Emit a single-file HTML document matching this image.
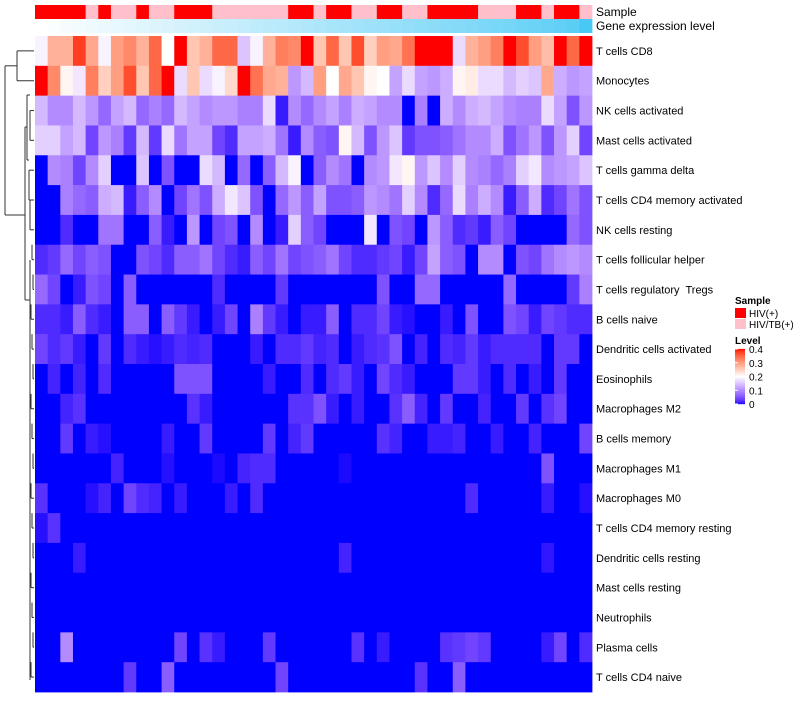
<!DOCTYPE html>
<html><head><meta charset="utf-8"><style>
body{margin:0;background:#fff;width:800px;height:700px;overflow:hidden;font-family:"Liberation Sans",sans-serif}
svg text{font-family:"Liberation Sans",sans-serif}
#labels text{white-space:pre}
</style></head><body>
<svg id="chart" width="800" height="700" xmlns="http://www.w3.org/2000/svg">
<g id="dendro" stroke="#333" fill="none" stroke-width="1"></g>
<g id="annot"></g>
<g id="cells"></g>
<g id="labels" font-size="11" fill="#000"></g>
<text x="596" y="16" font-size="12">Sample</text>
<text x="596" y="30" font-size="12">Gene expression level</text>
<g>
<text x="735" y="304" font-size="10" font-weight="bold">Sample</text>
<rect x="735" y="308" width="11" height="10" fill="#ff0000"/>
<text x="749" y="317" font-size="10">HIV(+)</text>
<rect x="735" y="319" width="11" height="10" fill="#ffc0cb"/>
<text x="749" y="328" font-size="10">HIV/TB(+)</text>
<text x="735" y="344" font-size="10" font-weight="bold">Level</text>
<g id="cbar"></g>
</g>
</svg>
<script>
const rowNames=["T cells CD8","Monocytes","NK cells activated","Mast cells activated","T cells gamma delta","T cells CD4 memory activated","NK cells resting","T cells follicular helper","T cells regulatory  Tregs","B cells naive","Dendritic cells activated","Eosinophils","Macrophages M2","B cells memory","Macrophages M1","Macrophages M0","T cells CD4 memory resting","Dendritic cells resting","Mast cells resting","Neutrophils","Plasma cells","T cells CD4 naive"];
const sampleGroup=[1,1,1,1,0,1,0,0,1,0,0,1,1,1,0,0,0,0,0,0,1,1,0,1,1,0,0,1,1,0,0,1,1,1,1,0,0,0,1,1,0,1,1,0];
const geneLevel=[0,0.02,0.05,0.07,0.09,0.11,0.13,0.15,0.17,0.19,0.21,0.23,0.25,0.27,0.29,0.31,0.33,0.35,0.37,0.39,0.41,0.43,0.45,0.47,0.49,0.51,0.53,0.55,0.57,0.59,0.61,0.63,0.65,0.67,0.69,0.71,0.73,0.75,0.78,0.8,0.83,0.86,0.9,1];
const r0=[0.19,0.28,0.28,0.38,0.29,0.19,0.3,0.32,0.28,0.35,0.2,0.42,0.26,0.28,0.35,0.35,0.15,0.19,0.28,0.33,0.32,0.42,0.26,0.35,0.26,0.37,0.25,0.3,0.29,0.34,0.45,0.45,0.45,0.17,0.28,0.3,0.33,0.42,0.37,0.3,0.27,0.42,0.35,0.42];
const r1=[0.42,0.32,0.21,0.18,0.33,0.25,0.3,0.37,0.26,0.35,0.42,0.17,0.26,0.17,0.19,0.24,0.42,0.34,0.29,0.28,0.11,0.14,0.3,0.2,0.29,0.26,0.21,0.2,0.12,0.17,0.12,0.11,0.13,0.21,0.22,0.17,0.17,0.14,0.16,0.15,0.29,0.13,0.11,0.12];
const r2=[0.14,0.1,0.1,0.14,0.11,0.07,0.12,0.14,0.07,0.09,0.07,0.14,0.12,0.1,0.11,0.11,0.09,0.09,0.17,0.01,0.1,0.07,0.1,0.12,0.09,0.13,0.12,0.1,0.1,0,0.09,0,0.13,0.1,0.13,0.14,0.12,0.1,0.09,0.09,0.17,0.12,0.05,0.11];
const r3=[0.16,0.16,0.12,0.14,0.04,0.11,0.09,0.03,0.14,0.03,0.17,0.08,0.12,0.12,0.04,0.02,0.12,0.12,0.13,0.08,0.01,0.1,0.06,0.05,0.21,0.14,0.05,0.11,0.15,0.03,0.05,0.05,0.06,0.08,0.1,0.1,0.13,0.05,0.08,0.11,0.05,0.11,0.16,0.04];
const r4=[0,0.1,0.09,0.04,0.1,0.16,0,0,0.15,0,0.05,0,0,0.17,0.14,0,0.07,0,0.06,0.14,0.19,0,0.06,0.1,0.08,0,0.1,0.11,0.18,0.21,0.11,0.15,0.1,0.16,0.1,0.09,0.07,0.09,0.16,0.18,0.1,0.11,0.12,0.15];
const r5=[0,0,0.09,0.07,0.06,0.13,0.14,0.01,0.06,0.1,0,0.04,0.08,0.05,0.13,0.18,0.15,0.05,0,0.07,0.11,0.06,0.12,0.05,0.05,0.06,0.11,0.1,0.08,0.16,0.1,0.02,0.07,0.17,0.09,0.13,0.1,0.01,0.06,0.13,0.02,0.04,0.08,0.05];
const r6=[0,0,0.02,0,0,0.08,0.08,0,0,0.06,0.01,0,0.11,0,0.04,0.05,0,0.1,0,0.01,0.16,0.06,0.04,0,0,0,0.18,0,0.05,0.04,0,0.11,0.06,0.02,0.03,0.01,0.06,0.04,0,0,0,0,0.07,0.05];
const r7=[0.02,0.03,0.07,0.04,0.06,0.05,0,0,0.05,0.04,0.02,0.06,0.06,0.08,0.04,0.02,0.01,0.06,0.04,0.08,0.04,0.05,0.06,0.08,0.04,0.02,0.02,0.03,0.04,0.01,0.04,0.12,0.06,0.05,0,0.1,0.1,0,0.05,0.04,0.08,0.1,0.11,0.1];
const r8=[0.07,0.04,0,0.01,0.05,0.04,0,0.06,0,0,0,0,0,0,0.02,0,0,0,0,0.03,0,0,0,0,0,0,0,0.05,0,0,0.07,0.07,0,0,0,0,0,0.07,0,0,0,0,0.03,0.09];
const r9=[0.02,0.02,0.01,0.06,0.02,0.01,0,0.06,0.06,0,0.06,0.03,0.01,0,0.01,0.04,0,0.09,0.03,0.01,0,0.01,0.01,0.06,0,0.02,0.02,0.04,0.01,0.005,0,0,0.01,0,0.05,0,0,0.05,0.04,0.01,0.04,0.03,0.02,0.02];
const r10=[0.04,0.02,0.03,0.01,0,0.03,0,0.02,0.01,0.005,0.01,0.02,0.015,0.02,0,0,0,0.01,0,0.02,0.02,0.03,0.015,0.02,0,0.01,0.02,0.025,0.05,0,0.015,0,0.02,0.015,0.03,0.01,0.02,0.02,0.02,0.02,0,0.03,0.03,0];
const r11=[0,0.015,0,0.015,0,0.02,0,0,0,0,0,0.05,0.05,0.05,0,0,0,0,0.01,0,0,0.02,0,0.02,0.03,0.01,0,0.04,0.02,0.01,0,0,0,0.03,0.03,0.01,0,0.02,0,0.01,0,0.03,0,0];
const r12=[0,0,0.015,0.025,0,0,0,0,0,0,0,0,0.025,0.01,0,0,0,0,0,0,0.025,0.025,0.05,0.01,0,0.01,0,0,0.025,0.06,0.015,0,0.03,0,0,0.015,0,0,0.03,0,0.025,0.04,0,0];
const r13=[0,0,0.03,0,0.01,0.005,0,0,0,0,0.01,0,0,0.03,0,0,0,0,0.03,0,0.015,0.03,0,0,0,0,0,0.025,0.015,0,0,0.01,0.01,0.015,0,0,0.01,0,0,0.015,0,0,0,0.04];
const r14=[0,0,0,0,0,0,0.015,0,0,0,0.005,0,0,0,0.003,0,0.015,0.02,0.02,0,0,0,0,0,0.003,0,0,0,0,0,0,0,0,0,0,0,0,0,0,0,0.05,0,0,0];
const r15=[0.025,0,0,0,0.005,0.015,0,0.04,0.02,0.015,0,0.01,0,0,0,0.01,0,0.02,0,0,0,0,0,0,0,0,0,0,0,0,0,0,0,0,0.02,0,0,0,0,0,0.01,0,0,0.005];
const r16=[0.005,0.025,0,0,0,0,0,0,0,0,0,0,0,0,0,0,0,0,0,0,0,0,0,0,0,0,0,0,0,0,0,0,0,0,0,0,0,0,0,0,0,0,0,0];
const r17=[0,0,0,0.01,0,0,0,0,0,0,0,0,0,0,0,0,0,0,0,0,0,0,0,0,0.015,0,0,0,0,0,0,0,0,0,0,0,0,0,0,0,0.008,0,0,0];
const r18=[0,0,0,0,0,0,0,0,0,0,0,0,0,0,0,0,0,0,0,0,0,0,0,0,0,0,0,0,0,0,0,0,0,0,0,0,0,0,0,0,0,0,0,0];
const r19=[0,0,0,0,0,0,0,0,0,0,0,0,0,0,0,0,0,0,0,0,0,0,0,0,0,0,0,0,0,0,0,0,0,0,0,0,0,0,0,0,0,0,0,0];
const r20=[0,0,0.1,0,0,0,0,0,0,0,0,0.04,0,0.025,0.01,0,0,0,0.03,0,0,0,0,0,0,0.025,0,0.01,0,0,0,0,0.025,0.03,0.04,0.03,0,0,0,0,0.01,0.04,0,0.02];
const r21=[0,0,0,0,0,0,0,0.03,0,0,0.06,0,0,0,0,0,0,0,0,0.04,0,0,0,0,0,0,0,0,0,0,0.025,0,0,0.06,0,0,0,0,0,0,0,0,0,0];
const values=[r0,r1,r2,r3,r4,r5,r6,r7,r8,r9,r10,r11,r12,r13,r14,r15,r16,r17,r18,r19,r20,r21];
const levelTicks=[0,0.1,0.2,0.3,0.4];

const NS="http://www.w3.org/2000/svg";
const X0=35,X1=592,Y0=36,Y1=692;
const nC=sampleGroup.length,nR=rowNames.length;
const cw=(X1-X0)/nC,rh=(Y1-Y0)/nR;
const xS=i=>X0+i*cw, yS=j=>Y0+j*rh;
function toLin(c){c/=255;return c<=0.04045?c/12.92:Math.pow((c+0.055)/1.055,2.4)}
function fromLin(c){c=c<=0.0031308?12.92*c:1.055*Math.pow(c,1/2.4)-0.055;return Math.max(0,Math.min(255,Math.round(c*255)))}
function rgb2lab(r,g,b){r=toLin(r);g=toLin(g);b=toLin(b);
let x=(0.4124*r+0.3576*g+0.1805*b)/0.95047,y=0.2126*r+0.7152*g+0.0722*b,z=(0.0193*r+0.1192*g+0.9505*b)/1.08883;
const f=t=>t>0.008856?Math.cbrt(t):7.787*t+16/116;x=f(x);y=f(y);z=f(z);return[116*y-16,500*(x-y),200*(y-z)]}
function lab2rgb(L,a,bb){let y=(L+16)/116,x=a/500+y,z=y-bb/200;
const f=t=>t*t*t>0.008856?t*t*t:(t-16/116)/7.787;x=f(x)*0.95047;y=f(y);z=f(z)*1.08883;
const r=3.2406*x-1.5372*y-0.4986*z,g=-0.9689*x+1.8758*y+0.0415*z,b=0.0557*x-0.2040*y+1.0570*z;
return`rgb(${fromLin(r)},${fromLin(g)},${fromLin(b)})`}
const cB=rgb2lab(0,0,255),cW=rgb2lab(255,255,255),cR=rgb2lab(255,0,0);
function col(v){v=Math.max(0,Math.min(0.4,v));let a,b,t;
if(v<=0.2){a=cB;b=cW;t=v/0.2}else{a=cW;b=cR;t=(v-0.2)/0.2}
return lab2rgb(a[0]+(b[0]-a[0])*t,a[1]+(b[1]-a[1])*t,a[2]+(b[2]-a[2])*t)}
function geneCol(t){const r=Math.round(255+(72-255)*t),g=Math.round(255+(200-255)*t),b=Math.round(255+(244-255)*t);return`rgb(${r},${g},${b})`}

const cells=document.getElementById('cells');
values.forEach((row,j)=>row.forEach((v,i)=>{
const r=document.createElementNS(NS,'rect');
r.setAttribute('x',xS(i));r.setAttribute('y',yS(j));r.setAttribute('width',cw+0.4);r.setAttribute('height',rh+0.4);r.setAttribute('fill',col(v));


cells.appendChild(r);}));
const annot=document.getElementById('annot');
sampleGroup.forEach((g,i)=>{
const r=document.createElementNS(NS,'rect');
r.setAttribute('x',xS(i));r.setAttribute('y',5);r.setAttribute('width',cw+0.4);r.setAttribute('height',14);r.setAttribute('fill',g?'#ff0000':'#ffc0cb');


annot.appendChild(r);
const q=document.createElementNS(NS,'rect');
q.setAttribute('x',xS(i));q.setAttribute('y',19);q.setAttribute('width',cw+0.4);q.setAttribute('height',14);q.setAttribute('fill',geneCol(geneLevel[i]));


annot.appendChild(q);});
const labels=document.getElementById('labels');
rowNames.forEach((n,j)=>{
const t=document.createElementNS(NS,'text');
t.setAttribute('x',596);t.setAttribute('y',yS(j)+rh/2+4);t.setAttribute('xml:space','preserve');t.textContent=n;


labels.appendChild(t);});
const d=document.getElementById('dendro');
const ym=j=>yS(j)+rh/2;
const segs=[[34,ym(0),17,ym(0)],[34,ym(1),17,ym(1)],[17,ym(0),17,ym(1)],
[5,(ym(0)+ym(1))/2,17,(ym(0)+ym(1))/2],[5,(ym(0)+ym(1))/2,5,215],[5,215,25,215],
[25,127,25,300],[25,127,27,127],[27,95,27,160],[27,95,30,95],[30,ym(2),30,ym(3)],[30,ym(2),34,ym(2)],[30,ym(3),34,ym(3)],
[27,160,29,160],[29,ym(4),29,200],[29,ym(4),34,ym(4)],[29,200,30,200],[30,ym(5),30,ym(6)],[30,ym(5),34,ym(5)],[30,ym(6),34,ym(6)],
[25,300,30,300],[30,260,30,680]];
segs.forEach(s=>{const l=document.createElementNS(NS,'line');l.setAttribute('x1',s[0]);l.setAttribute('y1',s[1]);l.setAttribute('x2',s[2]);l.setAttribute('y2',s[3]);


d.appendChild(l);});
for(let j=7;j<nR;j++){const l=document.createElementNS(NS,'line');const xx=31+(j%3);l.setAttribute('x1',xx);l.setAttribute('y1',ym(j));l.setAttribute('x2',34);l.setAttribute('y2',ym(j));


d.appendChild(l);
const v=document.createElementNS(NS,'line');v.setAttribute('x1',xx);v.setAttribute('y1',ym(j)-rh/2);v.setAttribute('x2',xx);v.setAttribute('y2',ym(j));


d.appendChild(v);}
const cb=document.getElementById('cbar');
const cbTop=349,cbBot=404,cbMax=0.4;
const cyS=v=>cbBot-(v/cbMax)*(cbBot-cbTop);
for(let k=0;k<55;k++){const v=cbMax*(k+0.5)/55;const r=document.createElementNS(NS,'rect');
r.setAttribute('x',735);r.setAttribute('y',cyS(v)-0.6);r.setAttribute('width',10);r.setAttribute('height',1.3);r.setAttribute('fill',col(v));


cb.appendChild(r);}
levelTicks.forEach(v=>{const y=cyS(v);
const t=document.createElementNS(NS,'text');t.setAttribute('x',749);t.setAttribute('y',y+4);t.setAttribute('font-size','10');t.textContent=String(v);


cb.appendChild(t);
const l=document.createElementNS(NS,'line');l.setAttribute('x1',735);l.setAttribute('x2',738);l.setAttribute('y1',y);l.setAttribute('y2',y);l.setAttribute('stroke','#fff');


cb.appendChild(l);});
</script>
</body></html>
